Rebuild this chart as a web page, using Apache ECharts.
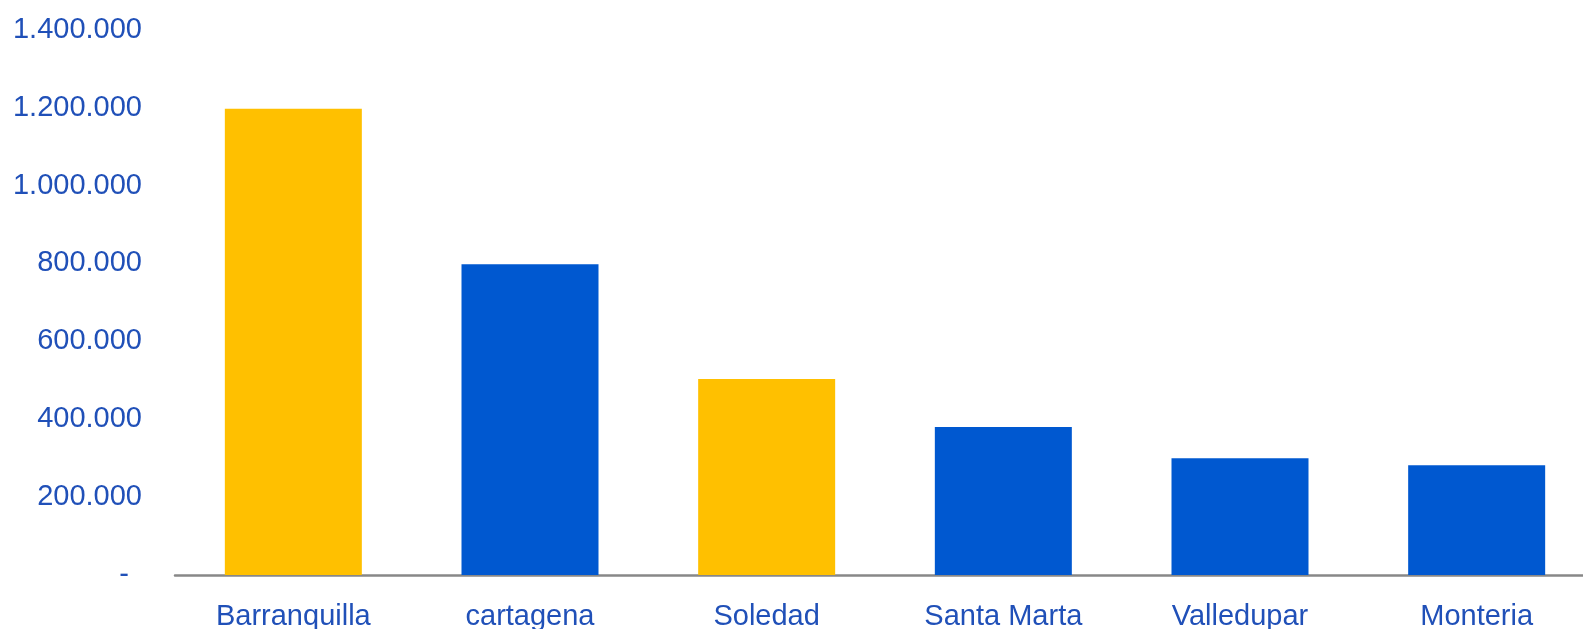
<!DOCTYPE html>
<html>
<head>
<meta charset="utf-8">
<script src="https://cdn.jsdelivr.net/npm/echarts@6/dist/echarts.min.js"></script>
<style>html,body{margin:0;padding:0;background:#fff;}#c{width:1583px;height:629px;}</style>
</head>
<body>
<div id="c"></div>
<script>
const categories = ['Barranquilla', 'cartagena', 'Soledad', 'Santa Marta', 'Valledupar', 'Monteria'];
const values = [1197000, 798000, 503000, 380000, 300000, 282000];
const barColors = ['#FFC000', '#0058D0', '#FFC000', '#0058D0', '#0058D0', '#0058D0'];
const yTicks = [0, 200000, 400000, 600000, 800000, 1000000, 1200000, 1400000];

function fmt(v) {
  if (v === 0) return '{z|-}';
  return String(v).replace(/\B(?=(\d{3})+(?!\d))/g, '.');
}

const chart = echarts.init(document.getElementById('c'));
chart.setOption({
  animation: false,
  grid: { left: 175, width: 1420, top: 29.7, bottom: 54, containLabel: false, outerBoundsMode: 'none' },
  xAxis: {
    type: 'category',
    data: categories,
    axisLine: { lineStyle: { color: '#888888', width: 2.5 } },
    axisTick: { show: false },
    axisLabel: { color: '#2050B8', fontFamily: 'Liberation Sans, Arial', fontSize: 29, margin: 27 }
  },
  yAxis: {
    type: 'value',
    min: yTicks[0],
    max: yTicks[yTicks.length - 1],
    interval: 200000,
    splitLine: { show: false },
    axisLine: { show: false },
    axisTick: { show: false },
    axisLabel: {
      color: '#2050B8', fontFamily: 'Liberation Sans, Arial', fontSize: 29, margin: 33,
      formatter: fmt,
      rich: { z: { color: '#2050B8', fontFamily: 'Liberation Sans, Arial', fontSize: 29, padding: [0, 13, 0, 0] } }
    }
  },
  series: [{
    type: 'bar',
    barWidth: 137,
    data: values.map((v, i) => ({ value: v, itemStyle: { color: barColors[i] } }))
  }]
});
</script>
</body>
</html>
